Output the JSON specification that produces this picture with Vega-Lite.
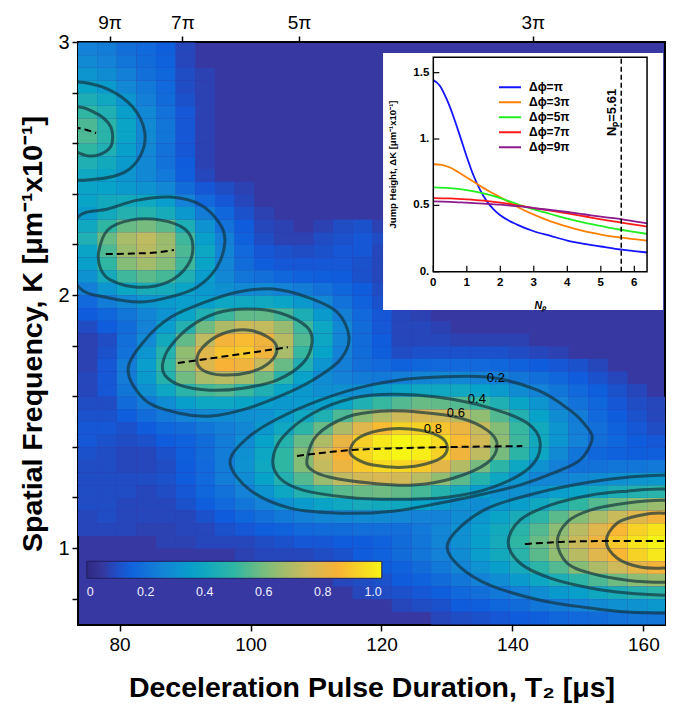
{
"$schema": "https://vega.github.io/schema/vega-lite/v6.json",
"width": 587, "height": 583,
"autosize": {"type": "none"},
"padding": {"left": 78, "top": 42, "right": 18, "bottom": 84},
"background": "white",
"config": {
  "font": "Liberation Sans",
  "view": {"fill": "#3838a2", "stroke": "black", "strokeWidth": 2},
  "axis": {"grid": false, "domain": false, "tickColor": "black", "labelColor": "black", "titleColor": "black", "labelFlush": false, "labelOverlap": false}
},
"datasets": {
"heat": [
{"t":75,"k":2.975,"v":0.25},{"t":78,"k":2.975,"v":0.23},{"t":81,"k":2.975,"v":0.19},{"t":84,"k":2.975,"v":0.17},{"t":87,"k":2.975,"v":0.14},
{"t":75,"k":2.925,"v":0.28},{"t":78,"k":2.925,"v":0.25},{"t":81,"k":2.925,"v":0.21},{"t":84,"k":2.925,"v":0.18},{"t":87,"k":2.925,"v":0.15},
{"t":75,"k":2.875,"v":0.32},{"t":78,"k":2.875,"v":0.29},{"t":81,"k":2.875,"v":0.24},{"t":84,"k":2.875,"v":0.19},{"t":87,"k":2.875,"v":0.16},{"t":90,"k":2.875,"v":0.1},
{"t":75,"k":2.825,"v":0.38},{"t":78,"k":2.825,"v":0.34},{"t":81,"k":2.825,"v":0.27},{"t":84,"k":2.825,"v":0.22},{"t":87,"k":2.825,"v":0.17},{"t":90,"k":2.825,"v":0.1},
{"t":75,"k":2.775,"v":0.44},{"t":78,"k":2.775,"v":0.4},{"t":81,"k":2.775,"v":0.32},{"t":84,"k":2.775,"v":0.24},{"t":87,"k":2.775,"v":0.18},{"t":90,"k":2.775,"v":0.11},
{"t":75,"k":2.725,"v":0.5},{"t":78,"k":2.725,"v":0.45},{"t":81,"k":2.725,"v":0.36},{"t":84,"k":2.725,"v":0.27},{"t":87,"k":2.725,"v":0.2},{"t":90,"k":2.725,"v":0.12},
{"t":75,"k":2.675,"v":0.54},{"t":78,"k":2.675,"v":0.48},{"t":81,"k":2.675,"v":0.38},{"t":84,"k":2.675,"v":0.28},{"t":87,"k":2.675,"v":0.21},{"t":90,"k":2.675,"v":0.12},
{"t":75,"k":2.625,"v":0.54},{"t":78,"k":2.625,"v":0.48},{"t":81,"k":2.625,"v":0.38},{"t":84,"k":2.625,"v":0.28},{"t":87,"k":2.625,"v":0.21},{"t":90,"k":2.625,"v":0.12},
{"t":75,"k":2.575,"v":0.5},{"t":78,"k":2.575,"v":0.45},{"t":81,"k":2.575,"v":0.36},{"t":84,"k":2.575,"v":0.27},{"t":87,"k":2.575,"v":0.2},{"t":90,"k":2.575,"v":0.12},
{"t":75,"k":2.525,"v":0.45},{"t":78,"k":2.525,"v":0.41},{"t":81,"k":2.525,"v":0.34},{"t":84,"k":2.525,"v":0.27},{"t":87,"k":2.525,"v":0.2},{"t":90,"k":2.525,"v":0.13},
{"t":75,"k":2.475,"v":0.4},{"t":78,"k":2.475,"v":0.38},{"t":81,"k":2.475,"v":0.32},{"t":84,"k":2.475,"v":0.27},{"t":87,"k":2.475,"v":0.22},{"t":90,"k":2.475,"v":0.14},
{"t":75,"k":2.425,"v":0.38},{"t":78,"k":2.425,"v":0.37},{"t":81,"k":2.425,"v":0.34},{"t":84,"k":2.425,"v":0.31},{"t":87,"k":2.425,"v":0.27},{"t":90,"k":2.425,"v":0.18},{"t":93,"k":2.425,"v":0.12},{"t":96,"k":2.425,"v":0.1},
{"t":75,"k":2.375,"v":0.38},{"t":78,"k":2.375,"v":0.41},{"t":81,"k":2.375,"v":0.41},{"t":84,"k":2.375,"v":0.4},{"t":87,"k":2.375,"v":0.35},{"t":90,"k":2.375,"v":0.25},{"t":93,"k":2.375,"v":0.17},{"t":96,"k":2.375,"v":0.12},
{"t":75,"k":2.325,"v":0.34},{"t":78,"k":2.325,"v":0.41},{"t":81,"k":2.325,"v":0.46},{"t":84,"k":2.325,"v":0.47},{"t":87,"k":2.325,"v":0.42},{"t":90,"k":2.325,"v":0.33},{"t":93,"k":2.325,"v":0.23},{"t":96,"k":2.325,"v":0.16},{"t":99,"k":2.325,"v":0.11},
{"t":75,"k":2.275,"v":0.4},{"t":78,"k":2.275,"v":0.5},{"t":81,"k":2.275,"v":0.58},{"t":84,"k":2.275,"v":0.6},{"t":87,"k":2.275,"v":0.56},{"t":90,"k":2.275,"v":0.44},{"t":93,"k":2.275,"v":0.31},{"t":96,"k":2.275,"v":0.2},{"t":99,"k":2.275,"v":0.13},{"t":114,"k":2.275,"v":0.1},{"t":117,"k":2.275,"v":0.11},
{"t":75,"k":2.225,"v":0.45},{"t":78,"k":2.225,"v":0.58},{"t":81,"k":2.225,"v":0.68},{"t":84,"k":2.225,"v":0.72},{"t":87,"k":2.225,"v":0.66},{"t":90,"k":2.225,"v":0.52},{"t":93,"k":2.225,"v":0.36},{"t":96,"k":2.225,"v":0.24},{"t":99,"k":2.225,"v":0.15},{"t":102,"k":2.225,"v":0.1},{"t":111,"k":2.225,"v":0.1},{"t":114,"k":2.225,"v":0.11},{"t":117,"k":2.225,"v":0.12},{"t":120,"k":2.225,"v":0.1},
{"t":75,"k":2.175,"v":0.38},{"t":78,"k":2.175,"v":0.54},{"t":81,"k":2.175,"v":0.66},{"t":84,"k":2.175,"v":0.71},{"t":87,"k":2.175,"v":0.66},{"t":90,"k":2.175,"v":0.54},{"t":93,"k":2.175,"v":0.39},{"t":96,"k":2.175,"v":0.26},{"t":99,"k":2.175,"v":0.17},{"t":102,"k":2.175,"v":0.12},{"t":105,"k":2.175,"v":0.11},{"t":108,"k":2.175,"v":0.1},{"t":111,"k":2.175,"v":0.11},{"t":114,"k":2.175,"v":0.12},{"t":117,"k":2.175,"v":0.12},
{"t":75,"k":2.125,"v":0.36},{"t":78,"k":2.125,"v":0.5},{"t":81,"k":2.125,"v":0.62},{"t":84,"k":2.125,"v":0.67},{"t":87,"k":2.125,"v":0.62},{"t":90,"k":2.125,"v":0.52},{"t":93,"k":2.125,"v":0.38},{"t":96,"k":2.125,"v":0.26},{"t":99,"k":2.125,"v":0.18},{"t":102,"k":2.125,"v":0.14},{"t":105,"k":2.125,"v":0.12},{"t":108,"k":2.125,"v":0.12},{"t":111,"k":2.125,"v":0.12},{"t":114,"k":2.125,"v":0.12},{"t":117,"k":2.125,"v":0.11},
{"t":75,"k":2.075,"v":0.31},{"t":78,"k":2.075,"v":0.42},{"t":81,"k":2.075,"v":0.52},{"t":84,"k":2.075,"v":0.56},{"t":87,"k":2.075,"v":0.53},{"t":90,"k":2.075,"v":0.45},{"t":93,"k":2.075,"v":0.35},{"t":96,"k":2.075,"v":0.27},{"t":99,"k":2.075,"v":0.21},{"t":102,"k":2.075,"v":0.19},{"t":105,"k":2.075,"v":0.16},{"t":108,"k":2.075,"v":0.15},{"t":111,"k":2.075,"v":0.14},{"t":114,"k":2.075,"v":0.13},{"t":117,"k":2.075,"v":0.11},
{"t":75,"k":2.025,"v":0.24},{"t":78,"k":2.025,"v":0.32},{"t":81,"k":2.025,"v":0.39},{"t":84,"k":2.025,"v":0.43},{"t":87,"k":2.025,"v":0.42},{"t":90,"k":2.025,"v":0.38},{"t":93,"k":2.025,"v":0.33},{"t":96,"k":2.025,"v":0.3},{"t":99,"k":2.025,"v":0.28},{"t":102,"k":2.025,"v":0.28},{"t":105,"k":2.025,"v":0.25},{"t":108,"k":2.025,"v":0.23},{"t":111,"k":2.025,"v":0.2},{"t":114,"k":2.025,"v":0.16},{"t":117,"k":2.025,"v":0.13},{"t":120,"k":2.025,"v":0.1},
{"t":75,"k":1.975,"v":0.17},{"t":78,"k":1.975,"v":0.23},{"t":81,"k":1.975,"v":0.28},{"t":84,"k":1.975,"v":0.32},{"t":87,"k":1.975,"v":0.34},{"t":90,"k":1.975,"v":0.35},{"t":93,"k":1.975,"v":0.36},{"t":96,"k":1.975,"v":0.39},{"t":99,"k":1.975,"v":0.4},{"t":102,"k":1.975,"v":0.4},{"t":105,"k":1.975,"v":0.38},{"t":108,"k":1.975,"v":0.33},{"t":111,"k":1.975,"v":0.27},{"t":114,"k":1.975,"v":0.2},{"t":117,"k":1.975,"v":0.15},{"t":120,"k":1.975,"v":0.11},
{"t":75,"k":1.925,"v":0.13},{"t":78,"k":1.925,"v":0.16},{"t":81,"k":1.925,"v":0.21},{"t":84,"k":1.925,"v":0.26},{"t":87,"k":1.925,"v":0.31},{"t":90,"k":1.925,"v":0.38},{"t":93,"k":1.925,"v":0.45},{"t":96,"k":1.925,"v":0.52},{"t":99,"k":1.925,"v":0.57},{"t":102,"k":1.925,"v":0.57},{"t":105,"k":1.925,"v":0.53},{"t":108,"k":1.925,"v":0.44},{"t":111,"k":1.925,"v":0.34},{"t":114,"k":1.925,"v":0.24},{"t":117,"k":1.925,"v":0.17},{"t":120,"k":1.925,"v":0.12},
{"t":75,"k":1.875,"v":0.1},{"t":78,"k":1.875,"v":0.13},{"t":81,"k":1.875,"v":0.18},{"t":84,"k":1.875,"v":0.25},{"t":87,"k":1.875,"v":0.35},{"t":90,"k":1.875,"v":0.46},{"t":93,"k":1.875,"v":0.59},{"t":96,"k":1.875,"v":0.69},{"t":99,"k":1.875,"v":0.74},{"t":102,"k":1.875,"v":0.73},{"t":105,"k":1.875,"v":0.65},{"t":108,"k":1.875,"v":0.52},{"t":111,"k":1.875,"v":0.39},{"t":114,"k":1.875,"v":0.27},{"t":117,"k":1.875,"v":0.18},{"t":120,"k":1.875,"v":0.12},
{"t":78,"k":1.825,"v":0.1},{"t":81,"k":1.825,"v":0.19},{"t":84,"k":1.825,"v":0.28},{"t":87,"k":1.825,"v":0.41},{"t":90,"k":1.825,"v":0.57},{"t":93,"k":1.825,"v":0.72},{"t":96,"k":1.825,"v":0.84},{"t":99,"k":1.825,"v":0.87},{"t":102,"k":1.825,"v":0.83},{"t":105,"k":1.825,"v":0.71},{"t":108,"k":1.825,"v":0.55},{"t":111,"k":1.825,"v":0.39},{"t":114,"k":1.825,"v":0.26},{"t":117,"k":1.825,"v":0.18},{"t":120,"k":1.825,"v":0.13},
{"t":78,"k":1.775,"v":0.11},{"t":81,"k":1.775,"v":0.2},{"t":84,"k":1.775,"v":0.32},{"t":87,"k":1.775,"v":0.47},{"t":90,"k":1.775,"v":0.64},{"t":93,"k":1.775,"v":0.79},{"t":96,"k":1.775,"v":0.89},{"t":99,"k":1.775,"v":0.9},{"t":102,"k":1.775,"v":0.83},{"t":105,"k":1.775,"v":0.68},{"t":108,"k":1.775,"v":0.51},{"t":111,"k":1.775,"v":0.37},{"t":114,"k":1.775,"v":0.25},{"t":117,"k":1.775,"v":0.18},{"t":120,"k":1.775,"v":0.14},{"t":123,"k":1.775,"v":0.1},{"t":126,"k":1.775,"v":0.11},{"t":129,"k":1.775,"v":0.11},{"t":132,"k":1.775,"v":0.11},{"t":135,"k":1.775,"v":0.11},{"t":138,"k":1.775,"v":0.11},{"t":141,"k":1.775,"v":0.1},
{"t":78,"k":1.725,"v":0.12},{"t":81,"k":1.725,"v":0.23},{"t":84,"k":1.725,"v":0.35},{"t":87,"k":1.725,"v":0.5},{"t":90,"k":1.725,"v":0.65},{"t":93,"k":1.725,"v":0.78},{"t":96,"k":1.725,"v":0.85},{"t":99,"k":1.725,"v":0.83},{"t":102,"k":1.725,"v":0.73},{"t":105,"k":1.725,"v":0.58},{"t":108,"k":1.725,"v":0.45},{"t":111,"k":1.725,"v":0.32},{"t":114,"k":1.725,"v":0.24},{"t":117,"k":1.725,"v":0.19},{"t":120,"k":1.725,"v":0.17},{"t":123,"k":1.725,"v":0.15},{"t":126,"k":1.725,"v":0.16},{"t":129,"k":1.725,"v":0.17},{"t":132,"k":1.725,"v":0.17},{"t":135,"k":1.725,"v":0.17},{"t":138,"k":1.725,"v":0.16},{"t":141,"k":1.725,"v":0.15},{"t":144,"k":1.725,"v":0.13},{"t":147,"k":1.725,"v":0.12},{"t":150,"k":1.725,"v":0.11},
{"t":78,"k":1.675,"v":0.12},{"t":81,"k":1.675,"v":0.23},{"t":84,"k":1.675,"v":0.34},{"t":87,"k":1.675,"v":0.47},{"t":90,"k":1.675,"v":0.59},{"t":93,"k":1.675,"v":0.68},{"t":96,"k":1.675,"v":0.71},{"t":99,"k":1.675,"v":0.67},{"t":102,"k":1.675,"v":0.59},{"t":105,"k":1.675,"v":0.48},{"t":108,"k":1.675,"v":0.37},{"t":111,"k":1.675,"v":0.29},{"t":114,"k":1.675,"v":0.25},{"t":117,"k":1.675,"v":0.23},{"t":120,"k":1.675,"v":0.22},{"t":123,"k":1.675,"v":0.24},{"t":126,"k":1.675,"v":0.26},{"t":129,"k":1.675,"v":0.27},{"t":132,"k":1.675,"v":0.27},{"t":135,"k":1.675,"v":0.25},{"t":138,"k":1.675,"v":0.24},{"t":141,"k":1.675,"v":0.21},{"t":144,"k":1.675,"v":0.19},{"t":147,"k":1.675,"v":0.16},{"t":150,"k":1.675,"v":0.13},{"t":153,"k":1.675,"v":0.11},
{"t":78,"k":1.625,"v":0.12},{"t":81,"k":1.625,"v":0.21},{"t":84,"k":1.625,"v":0.3},{"t":87,"k":1.625,"v":0.39},{"t":90,"k":1.625,"v":0.48},{"t":93,"k":1.625,"v":0.53},{"t":96,"k":1.625,"v":0.55},{"t":99,"k":1.625,"v":0.51},{"t":102,"k":1.625,"v":0.45},{"t":105,"k":1.625,"v":0.38},{"t":108,"k":1.625,"v":0.33},{"t":111,"k":1.625,"v":0.3},{"t":114,"k":1.625,"v":0.3},{"t":117,"k":1.625,"v":0.3},{"t":120,"k":1.625,"v":0.34},{"t":123,"k":1.625,"v":0.38},{"t":126,"k":1.625,"v":0.4},{"t":129,"k":1.625,"v":0.4},{"t":132,"k":1.625,"v":0.4},{"t":135,"k":1.625,"v":0.37},{"t":138,"k":1.625,"v":0.34},{"t":141,"k":1.625,"v":0.29},{"t":144,"k":1.625,"v":0.25},{"t":147,"k":1.625,"v":0.21},{"t":150,"k":1.625,"v":0.17},{"t":153,"k":1.625,"v":0.14},{"t":156,"k":1.625,"v":0.11},
{"t":78,"k":1.575,"v":0.1},{"t":81,"k":1.575,"v":0.18},{"t":84,"k":1.575,"v":0.23},{"t":87,"k":1.575,"v":0.29},{"t":90,"k":1.575,"v":0.36},{"t":93,"k":1.575,"v":0.39},{"t":96,"k":1.575,"v":0.39},{"t":99,"k":1.575,"v":0.38},{"t":102,"k":1.575,"v":0.35},{"t":105,"k":1.575,"v":0.33},{"t":108,"k":1.575,"v":0.34},{"t":111,"k":1.575,"v":0.36},{"t":114,"k":1.575,"v":0.38},{"t":117,"k":1.575,"v":0.45},{"t":120,"k":1.575,"v":0.51},{"t":123,"k":1.575,"v":0.55},{"t":126,"k":1.575,"v":0.58},{"t":129,"k":1.575,"v":0.57},{"t":132,"k":1.575,"v":0.55},{"t":135,"k":1.575,"v":0.51},{"t":138,"k":1.575,"v":0.45},{"t":141,"k":1.575,"v":0.38},{"t":144,"k":1.575,"v":0.32},{"t":147,"k":1.575,"v":0.25},{"t":150,"k":1.575,"v":0.2},{"t":153,"k":1.575,"v":0.16},{"t":156,"k":1.575,"v":0.12},{"t":159,"k":1.575,"v":0.1},
{"t":75,"k":1.525,"v":0.11},{"t":78,"k":1.525,"v":0.11},{"t":81,"k":1.525,"v":0.14},{"t":84,"k":1.525,"v":0.18},{"t":87,"k":1.525,"v":0.22},{"t":90,"k":1.525,"v":0.25},{"t":93,"k":1.525,"v":0.28},{"t":96,"k":1.525,"v":0.29},{"t":99,"k":1.525,"v":0.3},{"t":102,"k":1.525,"v":0.31},{"t":105,"k":1.525,"v":0.35},{"t":108,"k":1.525,"v":0.4},{"t":111,"k":1.525,"v":0.45},{"t":114,"k":1.525,"v":0.54},{"t":117,"k":1.525,"v":0.63},{"t":120,"k":1.525,"v":0.7},{"t":123,"k":1.525,"v":0.75},{"t":126,"k":1.525,"v":0.77},{"t":129,"k":1.525,"v":0.75},{"t":132,"k":1.525,"v":0.71},{"t":135,"k":1.525,"v":0.64},{"t":138,"k":1.525,"v":0.55},{"t":141,"k":1.525,"v":0.46},{"t":144,"k":1.525,"v":0.37},{"t":147,"k":1.525,"v":0.29},{"t":150,"k":1.525,"v":0.23},{"t":153,"k":1.525,"v":0.17},{"t":156,"k":1.525,"v":0.13},{"t":159,"k":1.525,"v":0.11},
{"t":75,"k":1.475,"v":0.12},{"t":78,"k":1.475,"v":0.12},{"t":81,"k":1.475,"v":0.11},{"t":84,"k":1.475,"v":0.13},{"t":87,"k":1.475,"v":0.16},{"t":90,"k":1.475,"v":0.18},{"t":93,"k":1.475,"v":0.21},{"t":96,"k":1.475,"v":0.24},{"t":99,"k":1.475,"v":0.27},{"t":102,"k":1.475,"v":0.33},{"t":105,"k":1.475,"v":0.4},{"t":108,"k":1.475,"v":0.49},{"t":111,"k":1.475,"v":0.58},{"t":114,"k":1.475,"v":0.69},{"t":117,"k":1.475,"v":0.79},{"t":120,"k":1.475,"v":0.87},{"t":123,"k":1.475,"v":0.92},{"t":126,"k":1.475,"v":0.92},{"t":129,"k":1.475,"v":0.89},{"t":132,"k":1.475,"v":0.82},{"t":135,"k":1.475,"v":0.73},{"t":138,"k":1.475,"v":0.62},{"t":141,"k":1.475,"v":0.51},{"t":144,"k":1.475,"v":0.41},{"t":147,"k":1.475,"v":0.32},{"t":150,"k":1.475,"v":0.24},{"t":153,"k":1.475,"v":0.19},{"t":156,"k":1.475,"v":0.15},{"t":159,"k":1.475,"v":0.12},{"t":162,"k":1.475,"v":0.1},
{"t":75,"k":1.425,"v":0.12},{"t":78,"k":1.425,"v":0.11},{"t":81,"k":1.425,"v":0.1},{"t":84,"k":1.425,"v":0.11},{"t":87,"k":1.425,"v":0.13},{"t":90,"k":1.425,"v":0.15},{"t":93,"k":1.425,"v":0.18},{"t":96,"k":1.425,"v":0.23},{"t":99,"k":1.425,"v":0.29},{"t":102,"k":1.425,"v":0.37},{"t":105,"k":1.425,"v":0.47},{"t":108,"k":1.425,"v":0.58},{"t":111,"k":1.425,"v":0.69},{"t":114,"k":1.425,"v":0.81},{"t":117,"k":1.425,"v":0.91},{"t":120,"k":1.425,"v":0.97},{"t":123,"k":1.425,"v":1.0},{"t":126,"k":1.425,"v":0.98},{"t":129,"k":1.425,"v":0.94},{"t":132,"k":1.425,"v":0.87},{"t":135,"k":1.425,"v":0.76},{"t":138,"k":1.425,"v":0.64},{"t":141,"k":1.425,"v":0.52},{"t":144,"k":1.425,"v":0.41},{"t":147,"k":1.425,"v":0.32},{"t":150,"k":1.425,"v":0.25},{"t":153,"k":1.425,"v":0.19},{"t":156,"k":1.425,"v":0.16},{"t":159,"k":1.425,"v":0.13},{"t":162,"k":1.425,"v":0.12},
{"t":75,"k":1.375,"v":0.11},{"t":78,"k":1.375,"v":0.1},{"t":87,"k":1.375,"v":0.11},{"t":90,"k":1.375,"v":0.14},{"t":93,"k":1.375,"v":0.18},{"t":96,"k":1.375,"v":0.23},{"t":99,"k":1.375,"v":0.3},{"t":102,"k":1.375,"v":0.39},{"t":105,"k":1.375,"v":0.5},{"t":108,"k":1.375,"v":0.62},{"t":111,"k":1.375,"v":0.75},{"t":114,"k":1.375,"v":0.85},{"t":117,"k":1.375,"v":0.93},{"t":120,"k":1.375,"v":0.98},{"t":123,"k":1.375,"v":1.0},{"t":126,"k":1.375,"v":0.98},{"t":129,"k":1.375,"v":0.92},{"t":132,"k":1.375,"v":0.83},{"t":135,"k":1.375,"v":0.72},{"t":138,"k":1.375,"v":0.6},{"t":141,"k":1.375,"v":0.49},{"t":144,"k":1.375,"v":0.39},{"t":147,"k":1.375,"v":0.28},{"t":150,"k":1.375,"v":0.21},{"t":153,"k":1.375,"v":0.16},{"t":156,"k":1.375,"v":0.15},{"t":159,"k":1.375,"v":0.14},{"t":162,"k":1.375,"v":0.14},
{"t":87,"k":1.325,"v":0.1},{"t":90,"k":1.325,"v":0.13},{"t":93,"k":1.325,"v":0.17},{"t":96,"k":1.325,"v":0.23},{"t":99,"k":1.325,"v":0.31},{"t":102,"k":1.325,"v":0.4},{"t":105,"k":1.325,"v":0.5},{"t":108,"k":1.325,"v":0.62},{"t":111,"k":1.325,"v":0.73},{"t":114,"k":1.325,"v":0.82},{"t":117,"k":1.325,"v":0.9},{"t":120,"k":1.325,"v":0.94},{"t":123,"k":1.325,"v":0.93},{"t":126,"k":1.325,"v":0.9},{"t":129,"k":1.325,"v":0.8},{"t":132,"k":1.325,"v":0.7},{"t":135,"k":1.325,"v":0.6},{"t":138,"k":1.325,"v":0.49},{"t":141,"k":1.325,"v":0.39},{"t":144,"k":1.325,"v":0.31},{"t":147,"k":1.325,"v":0.24},{"t":150,"k":1.325,"v":0.2},{"t":153,"k":1.325,"v":0.2},{"t":156,"k":1.325,"v":0.21},{"t":159,"k":1.325,"v":0.21},{"t":162,"k":1.325,"v":0.22},
{"t":87,"k":1.275,"v":0.11},{"t":90,"k":1.275,"v":0.13},{"t":93,"k":1.275,"v":0.17},{"t":96,"k":1.275,"v":0.23},{"t":99,"k":1.275,"v":0.29},{"t":102,"k":1.275,"v":0.37},{"t":105,"k":1.275,"v":0.46},{"t":108,"k":1.275,"v":0.55},{"t":111,"k":1.275,"v":0.65},{"t":114,"k":1.275,"v":0.72},{"t":117,"k":1.275,"v":0.76},{"t":120,"k":1.275,"v":0.77},{"t":123,"k":1.275,"v":0.76},{"t":126,"k":1.275,"v":0.71},{"t":129,"k":1.275,"v":0.64},{"t":132,"k":1.275,"v":0.56},{"t":135,"k":1.275,"v":0.47},{"t":138,"k":1.275,"v":0.39},{"t":141,"k":1.275,"v":0.32},{"t":144,"k":1.275,"v":0.26},{"t":147,"k":1.275,"v":0.26},{"t":150,"k":1.275,"v":0.27},{"t":153,"k":1.275,"v":0.29},{"t":156,"k":1.275,"v":0.3},{"t":159,"k":1.275,"v":0.32},{"t":162,"k":1.275,"v":0.33},
{"t":87,"k":1.225,"v":0.1},{"t":90,"k":1.225,"v":0.12},{"t":93,"k":1.225,"v":0.16},{"t":96,"k":1.225,"v":0.2},{"t":99,"k":1.225,"v":0.25},{"t":102,"k":1.225,"v":0.32},{"t":105,"k":1.225,"v":0.39},{"t":108,"k":1.225,"v":0.46},{"t":111,"k":1.225,"v":0.51},{"t":114,"k":1.225,"v":0.56},{"t":117,"k":1.225,"v":0.58},{"t":120,"k":1.225,"v":0.59},{"t":123,"k":1.225,"v":0.57},{"t":126,"k":1.225,"v":0.53},{"t":129,"k":1.225,"v":0.47},{"t":132,"k":1.225,"v":0.42},{"t":135,"k":1.225,"v":0.36},{"t":138,"k":1.225,"v":0.3},{"t":141,"k":1.225,"v":0.3},{"t":144,"k":1.225,"v":0.32},{"t":147,"k":1.225,"v":0.35},{"t":150,"k":1.225,"v":0.38},{"t":153,"k":1.225,"v":0.41},{"t":156,"k":1.225,"v":0.44},{"t":159,"k":1.225,"v":0.46},{"t":162,"k":1.225,"v":0.48},
{"t":90,"k":1.175,"v":0.11},{"t":93,"k":1.175,"v":0.14},{"t":96,"k":1.175,"v":0.17},{"t":99,"k":1.175,"v":0.21},{"t":102,"k":1.175,"v":0.25},{"t":105,"k":1.175,"v":0.3},{"t":108,"k":1.175,"v":0.34},{"t":111,"k":1.175,"v":0.38},{"t":114,"k":1.175,"v":0.4},{"t":117,"k":1.175,"v":0.42},{"t":120,"k":1.175,"v":0.41},{"t":123,"k":1.175,"v":0.4},{"t":126,"k":1.175,"v":0.37},{"t":129,"k":1.175,"v":0.34},{"t":132,"k":1.175,"v":0.3},{"t":135,"k":1.175,"v":0.29},{"t":138,"k":1.175,"v":0.33},{"t":141,"k":1.175,"v":0.36},{"t":144,"k":1.175,"v":0.4},{"t":147,"k":1.175,"v":0.45},{"t":150,"k":1.175,"v":0.5},{"t":153,"k":1.175,"v":0.55},{"t":156,"k":1.175,"v":0.59},{"t":159,"k":1.175,"v":0.63},{"t":162,"k":1.175,"v":0.66},
{"t":93,"k":1.125,"v":0.11},{"t":96,"k":1.125,"v":0.13},{"t":99,"k":1.125,"v":0.16},{"t":102,"k":1.125,"v":0.19},{"t":105,"k":1.125,"v":0.22},{"t":108,"k":1.125,"v":0.24},{"t":111,"k":1.125,"v":0.26},{"t":114,"k":1.125,"v":0.27},{"t":117,"k":1.125,"v":0.28},{"t":120,"k":1.125,"v":0.28},{"t":123,"k":1.125,"v":0.27},{"t":126,"k":1.125,"v":0.25},{"t":129,"k":1.125,"v":0.25},{"t":132,"k":1.125,"v":0.29},{"t":135,"k":1.125,"v":0.33},{"t":138,"k":1.125,"v":0.38},{"t":141,"k":1.125,"v":0.43},{"t":144,"k":1.125,"v":0.49},{"t":147,"k":1.125,"v":0.56},{"t":150,"k":1.125,"v":0.62},{"t":153,"k":1.125,"v":0.68},{"t":156,"k":1.125,"v":0.74},{"t":159,"k":1.125,"v":0.79},{"t":162,"k":1.125,"v":0.84},
{"t":96,"k":1.075,"v":0.11},{"t":99,"k":1.075,"v":0.12},{"t":102,"k":1.075,"v":0.14},{"t":105,"k":1.075,"v":0.15},{"t":108,"k":1.075,"v":0.17},{"t":111,"k":1.075,"v":0.18},{"t":114,"k":1.075,"v":0.18},{"t":117,"k":1.075,"v":0.19},{"t":120,"k":1.075,"v":0.19},{"t":123,"k":1.075,"v":0.19},{"t":126,"k":1.075,"v":0.22},{"t":129,"k":1.075,"v":0.26},{"t":132,"k":1.075,"v":0.3},{"t":135,"k":1.075,"v":0.35},{"t":138,"k":1.075,"v":0.41},{"t":141,"k":1.075,"v":0.48},{"t":144,"k":1.075,"v":0.55},{"t":147,"k":1.075,"v":0.63},{"t":150,"k":1.075,"v":0.71},{"t":153,"k":1.075,"v":0.79},{"t":156,"k":1.075,"v":0.86},{"t":159,"k":1.075,"v":0.92},{"t":162,"k":1.075,"v":0.96},
{"t":102,"k":1.025,"v":0.1},{"t":105,"k":1.025,"v":0.11},{"t":108,"k":1.025,"v":0.12},{"t":111,"k":1.025,"v":0.12},{"t":114,"k":1.025,"v":0.13},{"t":117,"k":1.025,"v":0.13},{"t":120,"k":1.025,"v":0.15},{"t":123,"k":1.025,"v":0.18},{"t":126,"k":1.025,"v":0.21},{"t":129,"k":1.025,"v":0.26},{"t":132,"k":1.025,"v":0.3},{"t":135,"k":1.025,"v":0.36},{"t":138,"k":1.025,"v":0.42},{"t":141,"k":1.025,"v":0.5},{"t":144,"k":1.025,"v":0.58},{"t":147,"k":1.025,"v":0.66},{"t":150,"k":1.025,"v":0.74},{"t":153,"k":1.025,"v":0.82},{"t":156,"k":1.025,"v":0.9},{"t":159,"k":1.025,"v":0.96},{"t":162,"k":1.025,"v":1.0},
{"t":114,"k":0.975,"v":0.11},{"t":117,"k":0.975,"v":0.13},{"t":120,"k":0.975,"v":0.15},{"t":123,"k":0.975,"v":0.18},{"t":126,"k":0.975,"v":0.21},{"t":129,"k":0.975,"v":0.25},{"t":132,"k":0.975,"v":0.29},{"t":135,"k":0.975,"v":0.35},{"t":138,"k":0.975,"v":0.41},{"t":141,"k":0.975,"v":0.48},{"t":144,"k":0.975,"v":0.56},{"t":147,"k":0.975,"v":0.64},{"t":150,"k":0.975,"v":0.71},{"t":153,"k":0.975,"v":0.79},{"t":156,"k":0.975,"v":0.86},{"t":159,"k":0.975,"v":0.92},{"t":162,"k":0.975,"v":0.97},
{"t":117,"k":0.925,"v":0.12},{"t":120,"k":0.925,"v":0.13},{"t":123,"k":0.925,"v":0.15},{"t":126,"k":0.925,"v":0.18},{"t":129,"k":0.925,"v":0.22},{"t":132,"k":0.925,"v":0.26},{"t":135,"k":0.925,"v":0.31},{"t":138,"k":0.925,"v":0.36},{"t":141,"k":0.925,"v":0.42},{"t":144,"k":0.925,"v":0.49},{"t":147,"k":0.925,"v":0.55},{"t":150,"k":0.925,"v":0.62},{"t":153,"k":0.925,"v":0.69},{"t":156,"k":0.925,"v":0.75},{"t":159,"k":0.925,"v":0.8},{"t":162,"k":0.925,"v":0.84},
{"t":120,"k":0.875,"v":0.11},{"t":123,"k":0.875,"v":0.13},{"t":126,"k":0.875,"v":0.15},{"t":129,"k":0.875,"v":0.18},{"t":132,"k":0.875,"v":0.21},{"t":135,"k":0.875,"v":0.25},{"t":138,"k":0.875,"v":0.29},{"t":141,"k":0.875,"v":0.34},{"t":144,"k":0.875,"v":0.39},{"t":147,"k":0.875,"v":0.44},{"t":150,"k":0.875,"v":0.49},{"t":153,"k":0.875,"v":0.54},{"t":156,"k":0.875,"v":0.59},{"t":159,"k":0.875,"v":0.63},{"t":162,"k":0.875,"v":0.66},
{"t":123,"k":0.825,"v":0.11},{"t":126,"k":0.825,"v":0.12},{"t":129,"k":0.825,"v":0.14},{"t":132,"k":0.825,"v":0.17},{"t":135,"k":0.825,"v":0.19},{"t":138,"k":0.825,"v":0.22},{"t":141,"k":0.825,"v":0.25},{"t":144,"k":0.825,"v":0.29},{"t":147,"k":0.825,"v":0.33},{"t":150,"k":0.825,"v":0.36},{"t":153,"k":0.825,"v":0.4},{"t":156,"k":0.825,"v":0.43},{"t":159,"k":0.825,"v":0.46},{"t":162,"k":0.825,"v":0.48},
{"t":129,"k":0.775,"v":0.11},{"t":132,"k":0.775,"v":0.13},{"t":135,"k":0.775,"v":0.14},{"t":138,"k":0.775,"v":0.16},{"t":141,"k":0.775,"v":0.18},{"t":144,"k":0.775,"v":0.21},{"t":147,"k":0.775,"v":0.23},{"t":150,"k":0.775,"v":0.25},{"t":153,"k":0.775,"v":0.28},{"t":156,"k":0.775,"v":0.3},{"t":159,"k":0.775,"v":0.31},{"t":162,"k":0.775,"v":0.33},
{"t":135,"k":0.725,"v":0.11},{"t":138,"k":0.725,"v":0.12},{"t":141,"k":0.725,"v":0.13},{"t":144,"k":0.725,"v":0.14},{"t":147,"k":0.725,"v":0.16},{"t":150,"k":0.725,"v":0.17},{"t":153,"k":0.725,"v":0.18},{"t":156,"k":0.725,"v":0.2},{"t":159,"k":0.725,"v":0.21},{"t":162,"k":0.725,"v":0.21},
{"t":90,"k":2.975,"v":0.09},{"t":90,"k":2.925,"v":0.09},{"t":93,"k":2.875,"v":0.08},{"t":93,"k":2.825,"v":0.08},{"t":93,"k":2.775,"v":0.08},{"t":93,"k":2.725,"v":0.08},{"t":93,"k":2.675,"v":0.08},{"t":93,"k":2.625,"v":0.08},{"t":93,"k":2.575,"v":0.08},{"t":93,"k":2.525,"v":0.08},{"t":93,"k":2.475,"v":0.09},
{"t":99,"k":2.425,"v":0.08},{"t":99,"k":2.375,"v":0.09},{"t":102,"k":2.325,"v":0.08},{"t":102,"k":2.275,"v":0.09},{"t":105,"k":2.275,"v":0.08},{"t":111,"k":2.275,"v":0.08},{"t":120,"k":2.275,"v":0.08},
{"t":105,"k":2.225,"v":0.08},{"t":108,"k":2.225,"v":0.08},{"t":123,"k":2.225,"v":0.08},{"t":120,"k":2.175,"v":0.09},{"t":123,"k":2.175,"v":0.08},{"t":120,"k":2.125,"v":0.09},{"t":120,"k":2.075,"v":0.09},{"t":123,"k":2.025,"v":0.08},{"t":123,"k":1.975,"v":0.08},
{"t":123,"k":1.925,"v":0.09},{"t":126,"k":1.925,"v":0.08},{"t":123,"k":1.875,"v":0.09},{"t":126,"k":1.875,"v":0.09},{"t":129,"k":1.875,"v":0.08},
{"t":75,"k":1.825,"v":0.08},{"t":123,"k":1.825,"v":0.09},{"t":126,"k":1.825,"v":0.09},{"t":129,"k":1.825,"v":0.09},{"t":132,"k":1.825,"v":0.08},{"t":135,"k":1.825,"v":0.08},{"t":138,"k":1.825,"v":0.08},{"t":141,"k":1.825,"v":0.08},
{"t":75,"k":1.775,"v":0.08},{"t":144,"k":1.775,"v":0.09},{"t":147,"k":1.775,"v":0.08},{"t":75,"k":1.725,"v":0.08},{"t":153,"k":1.725,"v":0.09},{"t":75,"k":1.675,"v":0.09},{"t":156,"k":1.675,"v":0.09},{"t":75,"k":1.625,"v":0.09},{"t":159,"k":1.625,"v":0.09},{"t":75,"k":1.575,"v":0.1},{"t":162,"k":1.575,"v":0.09},{"t":162,"k":1.525,"v":0.09},
{"t":81,"k":1.375,"v":0.09},{"t":84,"k":1.375,"v":0.09},
{"t":75,"k":1.325,"v":0.1},{"t":78,"k":1.325,"v":0.1},{"t":81,"k":1.325,"v":0.09},{"t":84,"k":1.325,"v":0.09},
{"t":75,"k":1.275,"v":0.1},{"t":78,"k":1.275,"v":0.1},{"t":81,"k":1.275,"v":0.1},{"t":84,"k":1.275,"v":0.1},
{"t":75,"k":1.225,"v":0.1},{"t":78,"k":1.225,"v":0.1},{"t":81,"k":1.225,"v":0.1},{"t":84,"k":1.225,"v":0.09},
{"t":75,"k":1.175,"v":0.1},{"t":78,"k":1.175,"v":0.1},{"t":81,"k":1.175,"v":0.09},{"t":84,"k":1.175,"v":0.09},{"t":87,"k":1.175,"v":0.09},
{"t":75,"k":1.125,"v":0.09},{"t":78,"k":1.125,"v":0.1},{"t":81,"k":1.125,"v":0.09},{"t":84,"k":1.125,"v":0.09},{"t":87,"k":1.125,"v":0.09},{"t":90,"k":1.125,"v":0.09},
{"t":75,"k":1.075,"v":0.09},{"t":78,"k":1.075,"v":0.09},{"t":81,"k":1.075,"v":0.09},{"t":84,"k":1.075,"v":0.08},{"t":87,"k":1.075,"v":0.08},{"t":90,"k":1.075,"v":0.09},{"t":93,"k":1.075,"v":0.09},
{"t":87,"k":1.025,"v":0.08},{"t":90,"k":1.025,"v":0.08},{"t":93,"k":1.025,"v":0.09},{"t":96,"k":1.025,"v":0.09},{"t":99,"k":1.025,"v":0.09},
{"t":99,"k":0.975,"v":0.08},{"t":102,"k":0.975,"v":0.09},{"t":105,"k":0.975,"v":0.09},{"t":108,"k":0.975,"v":0.09},{"t":111,"k":0.975,"v":0.1},
{"t":108,"k":0.925,"v":0.08},{"t":111,"k":0.925,"v":0.09},{"t":114,"k":0.925,"v":0.1},{"t":114,"k":0.875,"v":0.09},{"t":117,"k":0.875,"v":0.1},{"t":117,"k":0.825,"v":0.09},{"t":120,"k":0.825,"v":0.1},{"t":123,"k":0.775,"v":0.09},{"t":126,"k":0.775,"v":0.1},{"t":129,"k":0.725,"v":0.09},{"t":132,"k":0.725,"v":0.1}
],
"cont": [
{"c":"A4","t":73.6,"k":2.743},{"c":"A4","t":76.66,"k":2.715},{"c":"A4","t":78.49,"k":2.672},{"c":"A4","t":78.95,"k":2.624},{"c":"A4","t":78.49,"k":2.581},{"c":"A4","t":76.66,"k":2.553},{"c":"A4","t":74.67,"k":2.553},{"c":"A4","t":72.07,"k":2.593},{"c":"A4","t":71.77,"k":2.692},
{"c":"A2","t":73.6,"k":2.842},{"c":"A2","t":78.19,"k":2.814},{"c":"A2","t":82.01,"k":2.743},{"c":"A2","t":83.84,"k":2.644},{"c":"A2","t":83.23,"k":2.553},{"c":"A2","t":80.79,"k":2.486},{"c":"A2","t":76.2,"k":2.458},{"c":"A2","t":72.38,"k":2.474},{"c":"A2","t":70.85,"k":2.652},{"c":"A2","t":72.07,"k":2.818},
{"c":"B4","t":76.81,"k":2.17},{"c":"B4","t":78.19,"k":2.257},{"c":"B4","t":81.7,"k":2.296},{"c":"B4","t":86.29,"k":2.296},{"c":"B4","t":89.96,"k":2.261},{"c":"B4","t":91.18,"k":2.198},{"c":"B4","t":90.42,"k":2.118},{"c":"B4","t":87.36,"k":2.051},{"c":"B4","t":82.77,"k":2.031},{"c":"B4","t":78.65,"k":2.059},{"c":"B4","t":77.12,"k":2.103},
{"c":"B2","t":73.6,"k":2.308},{"c":"B2","t":78.19,"k":2.34},{"c":"B2","t":82.77,"k":2.375},{"c":"B2","t":87.82,"k":2.387},{"c":"B2","t":92.41,"k":2.356},{"c":"B2","t":95.32,"k":2.281},{"c":"B2","t":96.08,"k":2.209},{"c":"B2","t":94.86,"k":2.11},{"c":"B2","t":91.8,"k":2.031},{"c":"B2","t":87.67,"k":1.992},{"c":"B2","t":83.08,"k":1.972},{"c":"B2","t":77.73,"k":1.992},{"c":"B2","t":73.91,"k":2.028},{"c":"B2","t":71.61,"k":2.158},
{"c":"C6","t":91.8,"k":1.743},{"c":"C6","t":92.71,"k":1.794},{"c":"C6","t":95.62,"k":1.846},{"c":"C6","t":99.44,"k":1.862},{"c":"C6","t":102.65,"k":1.834},{"c":"C6","t":104.03,"k":1.79},{"c":"C6","t":102.96,"k":1.735},{"c":"C6","t":99.9,"k":1.695},{"c":"C6","t":95.77,"k":1.684},{"c":"C6","t":92.71,"k":1.703},
{"c":"C4","t":86.6,"k":1.731},{"c":"C4","t":87.67,"k":1.794},{"c":"C4","t":90.72,"k":1.874},{"c":"C4","t":94.85,"k":1.929},{"c":"C4","t":99.44,"k":1.945},{"c":"C4","t":104.49,"k":1.929},{"c":"C4","t":108.61,"k":1.874},{"c":"C4","t":109.38,"k":1.81},{"c":"C4","t":108.0,"k":1.731},{"c":"C4","t":104.03,"k":1.664},{"c":"C4","t":98.83,"k":1.632},{"c":"C4","t":93.78,"k":1.624},{"c":"C4","t":89.2,"k":1.644},{"c":"C4","t":86.9,"k":1.684},
{"c":"C2","t":81.3,"k":1.704},{"c":"C2","t":83.89,"k":1.822},{"c":"C2","t":87.86,"k":1.913},{"c":"C2","t":93.06,"k":1.972},{"c":"C2","t":98.09,"k":2.012},{"c":"C2","t":103.44,"k":2.024},{"c":"C2","t":108.63,"k":1.992},{"c":"C2","t":113.21,"k":1.933},{"c":"C2","t":115.04,"k":1.834},{"c":"C2","t":113.66,"k":1.743},{"c":"C2","t":109.54,"k":1.664},{"c":"C2","t":104.96,"k":1.605},{"c":"C2","t":99.16,"k":1.549},{"c":"C2","t":93.97,"k":1.522},{"c":"C2","t":88.93,"k":1.534},{"c":"C2","t":83.89,"k":1.585},
{"c":"D8","t":115.19,"k":1.387},{"c":"D8","t":116.72,"k":1.439},{"c":"D8","t":120.85,"k":1.47},{"c":"D8","t":125.89,"k":1.466},{"c":"D8","t":129.26,"k":1.435},{"c":"D8","t":130.02,"k":1.387},{"c":"D8","t":128.49,"k":1.348},{"c":"D8","t":123.9,"k":1.32},{"c":"D8","t":118.71,"k":1.328},{"c":"D8","t":115.95,"k":1.356},
{"c":"D6","t":108.61,"k":1.348},{"c":"D6","t":110.14,"k":1.446},{"c":"D6","t":114.73,"k":1.518},{"c":"D6","t":119.78,"k":1.541},{"c":"D6","t":125.89,"k":1.537},{"c":"D6","t":132.01,"k":1.514},{"c":"D6","t":136.14,"k":1.466},{"c":"D6","t":137.67,"k":1.407},{"c":"D6","t":136.14,"k":1.336},{"c":"D6","t":130.94,"k":1.276},{"c":"D6","t":124.82,"k":1.249},{"c":"D6","t":118.25,"k":1.257},{"c":"D6","t":112.13,"k":1.28},{"c":"D6","t":109.38,"k":1.308},
{"c":"D4","t":103.41,"k":1.348},{"c":"D4","t":104.94,"k":1.439},{"c":"D4","t":109.53,"k":1.533},{"c":"D4","t":115.65,"k":1.593},{"c":"D4","t":121.76,"k":1.608},{"c":"D4","t":128.49,"k":1.597},{"c":"D4","t":136.14,"k":1.557},{"c":"D4","t":142.25,"k":1.494},{"c":"D4","t":144.24,"k":1.415},{"c":"D4","t":142.71,"k":1.32},{"c":"D4","t":137.05,"k":1.241},{"c":"D4","t":130.02,"k":1.201},{"c":"D4","t":121.76,"k":1.193},{"c":"D4","t":114.73,"k":1.201},{"c":"D4","t":108.0,"k":1.229},{"c":"D4","t":104.49,"k":1.276},
{"c":"D2","t":96.88,"k":1.336},{"c":"D2","t":99.17,"k":1.427},{"c":"D2","t":103.75,"k":1.506},{"c":"D2","t":110.62,"k":1.585},{"c":"D2","t":118.25,"k":1.644},{"c":"D2","t":125.88,"k":1.672},{"c":"D2","t":136.11,"k":1.676},{"c":"D2","t":143.75,"k":1.625},{"c":"D2","t":148.78,"k":1.545},{"c":"D2","t":151.38,"k":1.478},{"c":"D2","t":152.14,"k":1.427},{"c":"D2","t":150.31,"k":1.348},{"c":"D2","t":146.19,"k":1.296},{"c":"D2","t":141.15,"k":1.249},{"c":"D2","t":136.11,"k":1.217},{"c":"D2","t":128.93,"k":1.178},{"c":"D2","t":121.76,"k":1.146},{"c":"D2","t":113.67,"k":1.138},{"c":"D2","t":106.04,"k":1.158},{"c":"D2","t":99.93,"k":1.229},
{"c":"E8","t":154.33,"k":1.027},{"c":"E8","t":156.01,"k":1.099},{"c":"E8","t":159.53,"k":1.13},{"c":"E8","t":163.05,"k":1.138},{"c":"E8","t":166.41,"k":1.118},{"c":"E8","t":167.94,"k":1.027},{"c":"E8","t":166.41,"k":0.929},{"c":"E8","t":163.05,"k":0.921},{"c":"E8","t":159.53,"k":0.925},{"c":"E8","t":156.01,"k":0.96},
{"c":"E6","t":146.84,"k":1.023},{"c":"E6","t":148.37,"k":1.103},{"c":"E6","t":151.88,"k":1.15},{"c":"E6","t":157.54,"k":1.178},{"c":"E6","t":163.05,"k":1.189},{"c":"E6","t":168.7,"k":1.17},{"c":"E6","t":171.76,"k":1.027},{"c":"E6","t":168.7,"k":0.873},{"c":"E6","t":163.05,"k":0.865},{"c":"E6","t":157.54,"k":0.873},{"c":"E6","t":151.88,"k":0.901},{"c":"E6","t":148.37,"k":0.94},
{"c":"E4","t":139.35,"k":1.023},{"c":"E4","t":141.18,"k":1.111},{"c":"E4","t":145.77,"k":1.17},{"c":"E4","t":151.88,"k":1.209},{"c":"E4","t":157.54,"k":1.225},{"c":"E4","t":163.05,"k":1.233},{"c":"E4","t":170.23,"k":1.221},{"c":"E4","t":174.82,"k":1.023},{"c":"E4","t":170.23,"k":0.814},{"c":"E4","t":163.05,"k":0.814},{"c":"E4","t":157.54,"k":0.822},{"c":"E4","t":151.88,"k":0.842},{"c":"E4","t":145.77,"k":0.881},{"c":"E4","t":141.18,"k":0.94},
{"c":"E2","t":130.02,"k":1.004},{"c":"E2","t":132.01,"k":1.083},{"c":"E2","t":136.6,"k":1.162},{"c":"E2","t":144.24,"k":1.221},{"c":"E2","t":151.88,"k":1.261},{"c":"E2","t":157.54,"k":1.28},{"c":"E2","t":163.05,"k":1.288},{"c":"E2","t":171.76,"k":1.276},{"c":"E2","t":177.88,"k":1.012},{"c":"E2","t":171.76,"k":0.735},{"c":"E2","t":163.05,"k":0.743},{"c":"E2","t":157.54,"k":0.747},{"c":"E2","t":151.88,"k":0.763},{"c":"E2","t":144.24,"k":0.794},{"c":"E2","t":136.6,"k":0.853},{"c":"E2","t":132.01,"k":0.925}
],
"ridge": [
{"r":"A","t":73.0,"k":2.664},{"r":"A","t":75.0,"k":2.652},{"r":"A","t":76.4,"k":2.64},
{"r":"B","t":77.9,"k":2.162},{"r":"B","t":82.0,"k":2.164},{"r":"B","t":85.5,"k":2.168},{"r":"B","t":88.3,"k":2.178},
{"r":"C","t":88.9,"k":1.731},{"r":"C","t":94.0,"k":1.75},{"r":"C","t":100.0,"k":1.772},{"r":"C","t":105.7,"k":1.794},
{"r":"D","t":107.1,"k":1.364},{"r":"D","t":115.2,"k":1.387},{"r":"D","t":122.8,"k":1.395},{"r":"D","t":132.0,"k":1.4},{"r":"D","t":141.5,"k":1.403},
{"r":"E","t":141.9,"k":1.016},{"r":"E","t":147.3,"k":1.024},{"r":"E","t":155.0,"k":1.028},{"r":"E","t":164.0,"k":1.028}
],
"clab": [
{"lab":"0.2","t":137.47,"k":1.672},{"lab":"0.4","t":134.57,"k":1.589},{"lab":"0.6","t":131.36,"k":1.534},{"lab":"0.8","t":127.85,"k":1.47}
],
"ixl": [
{"n":0,"lab":"0"},{"n":1,"lab":"1"},{"n":2,"lab":"2"},{"n":3,"lab":"3"},{"n":4,"lab":"4"},{"n":5,"lab":"5"},{"n":6,"lab":"6"}
],
"iyl": [
{"h":0,"lab":"0."},{"h":0.5,"lab":"0.5"},{"h":1,"lab":"1."},{"h":1.5,"lab":"1.5"}
],
"inset": [
{"s":"Δϕ=π","n":0,"h":1.445},{"s":"Δϕ=π","n":0.2,"h":1.4},{"s":"Δϕ=π","n":0.4,"h":1.3},{"s":"Δϕ=π","n":0.6,"h":1.17},{"s":"Δϕ=π","n":0.8,"h":1.02},{"s":"Δϕ=π","n":1.0,"h":0.865},{"s":"Δϕ=π","n":1.2,"h":0.725},{"s":"Δϕ=π","n":1.4,"h":0.615},{"s":"Δϕ=π","n":1.6,"h":0.53},{"s":"Δϕ=π","n":1.8,"h":0.47},{"s":"Δϕ=π","n":2.0,"h":0.425},{"s":"Δϕ=π","n":2.5,"h":0.355},{"s":"Δϕ=π","n":3.0,"h":0.305},{"s":"Δϕ=π","n":3.5,"h":0.27},{"s":"Δϕ=π","n":4.0,"h":0.235},{"s":"Δϕ=π","n":4.5,"h":0.21},{"s":"Δϕ=π","n":5.0,"h":0.19},{"s":"Δϕ=π","n":5.5,"h":0.17},{"s":"Δϕ=π","n":6.0,"h":0.155},{"s":"Δϕ=π","n":6.38,"h":0.145},
{"s":"Δϕ=3π","n":0,"h":0.81},{"s":"Δϕ=3π","n":0.25,"h":0.805},{"s":"Δϕ=3π","n":0.5,"h":0.785},{"s":"Δϕ=3π","n":0.75,"h":0.75},{"s":"Δϕ=3π","n":1.0,"h":0.71},{"s":"Δϕ=3π","n":1.25,"h":0.67},{"s":"Δϕ=3π","n":1.5,"h":0.63},{"s":"Δϕ=3π","n":1.75,"h":0.595},{"s":"Δϕ=3π","n":2.0,"h":0.56},{"s":"Δϕ=3π","n":2.5,"h":0.49},{"s":"Δϕ=3π","n":3.0,"h":0.43},{"s":"Δϕ=3π","n":3.5,"h":0.38},{"s":"Δϕ=3π","n":4.0,"h":0.34},{"s":"Δϕ=3π","n":4.5,"h":0.305},{"s":"Δϕ=3π","n":5.0,"h":0.28},{"s":"Δϕ=3π","n":5.5,"h":0.26},{"s":"Δϕ=3π","n":6.0,"h":0.245},{"s":"Δϕ=3π","n":6.38,"h":0.235},
{"s":"Δϕ=5π","n":0,"h":0.635},{"s":"Δϕ=5π","n":0.5,"h":0.63},{"s":"Δϕ=5π","n":1.0,"h":0.615},{"s":"Δϕ=5π","n":1.5,"h":0.59},{"s":"Δϕ=5π","n":2.0,"h":0.555},{"s":"Δϕ=5π","n":2.5,"h":0.51},{"s":"Δϕ=5π","n":3.0,"h":0.47},{"s":"Δϕ=5π","n":3.5,"h":0.435},{"s":"Δϕ=5π","n":4.0,"h":0.4},{"s":"Δϕ=5π","n":4.5,"h":0.37},{"s":"Δϕ=5π","n":5.0,"h":0.345},{"s":"Δϕ=5π","n":5.5,"h":0.32},{"s":"Δϕ=5π","n":6.0,"h":0.3},{"s":"Δϕ=5π","n":6.38,"h":0.285},
{"s":"Δϕ=7π","n":0,"h":0.555},{"s":"Δϕ=7π","n":0.5,"h":0.552},{"s":"Δϕ=7π","n":1.0,"h":0.545},{"s":"Δϕ=7π","n":1.5,"h":0.535},{"s":"Δϕ=7π","n":2.0,"h":0.52},{"s":"Δϕ=7π","n":2.5,"h":0.5},{"s":"Δϕ=7π","n":3.0,"h":0.48},{"s":"Δϕ=7π","n":3.5,"h":0.46},{"s":"Δϕ=7π","n":4.0,"h":0.44},{"s":"Δϕ=7π","n":4.5,"h":0.418},{"s":"Δϕ=7π","n":5.0,"h":0.395},{"s":"Δϕ=7π","n":5.5,"h":0.375},{"s":"Δϕ=7π","n":6.0,"h":0.355},{"s":"Δϕ=7π","n":6.38,"h":0.34},
{"s":"Δϕ=9π","n":0,"h":0.53},{"s":"Δϕ=9π","n":0.5,"h":0.527},{"s":"Δϕ=9π","n":1.0,"h":0.52},{"s":"Δϕ=9π","n":1.5,"h":0.513},{"s":"Δϕ=9π","n":2.0,"h":0.505},{"s":"Δϕ=9π","n":2.5,"h":0.494},{"s":"Δϕ=9π","n":3.0,"h":0.48},{"s":"Δϕ=9π","n":3.5,"h":0.465},{"s":"Δϕ=9π","n":4.0,"h":0.45},{"s":"Δϕ=9π","n":4.5,"h":0.433},{"s":"Δϕ=9π","n":5.0,"h":0.415},{"s":"Δϕ=9π","n":5.5,"h":0.4},{"s":"Δϕ=9π","n":6.0,"h":0.38},{"s":"Δϕ=9π","n":6.38,"h":0.365}
]
},
"layer": [
{
"layer": [
{
"data": {"name": "heat"},
"mark": {"type": "rect", "clip": true, "binSpacing": 0},
"encoding": {
"x": {"field": "t", "type": "quantitative", "bin": {"step": 3, "extent": [73.5, 163.5], "nice": false}, "scale": {"domain": [73.65, 163.3], "nice": false, "zero": false},
"axis": {"orient": "bottom", "values": [80, 100, 120, 140, 160], "format": "d", "labelFontSize": 19, "tickSize": 6, "tickWidth": 1.5, "labelPadding": 4, "title": "Deceleration Pulse Duration, T₂ [μs]", "titleFontSize": 28.5, "titleFontWeight": "bold", "titlePadding": 19, "zindex": 1}},
"y": {"field": "k", "type": "quantitative", "bin": {"step": 0.05, "extent": [0.7, 3.0], "nice": false}, "scale": {"domain": [0.696, 3], "nice": false, "zero": false}, "axis": null},
"color": {"field": "v", "type": "quantitative",
"scale": {"domain": [0, 0.06, 0.13, 0.25, 0.37, 0.5, 0.62, 0.75, 0.85, 1], "range": ["#2e2a80", "#3838a2", "#0f5cdd", "#1482d6", "#07a3c9", "#2fb6a3", "#86bd76", "#cfba5a", "#f8b236", "#f6f614"], "interpolate": "rgb"},
"legend": {"orient": "none", "legendX": 8.8, "legendY": 519.3, "direction": "horizontal", "gradientLength": 295, "gradientThickness": 17, "title": null, "values": [0, 0.2, 0.4, 0.6, 0.8, 1], "labelExpr": "datum.value == 0 ? '0' : format(datum.value, '.1f')", "labelColor": "#f0f0ff", "labelFontSize": 12.5, "labelOffset": 8, "labelAlign": "center", "gradientStrokeColor": "#202060", "gradientStrokeWidth": 1, "padding": 0}}
}
},
{
"data": {"name": "cont"},
"mark": {"type": "line", "clip": true, "interpolate": "cardinal-closed", "stroke": "#12303c", "strokeWidth": 3, "opacity": 0.68},
"encoding": {
"x": {"field": "t", "type": "quantitative", "axis": null},
"y": {"field": "k", "type": "quantitative", "scale": {"domain": [0.696, 3], "nice": false, "zero": false},
"axis": {"orient": "left", "values": [0.8, 1, 1.2, 1.4, 1.6, 1.8, 2, 2.2, 2.4, 2.6, 2.8, 3], "labelExpr": "(datum.value == 1 || datum.value == 2 || datum.value == 3) ? format(datum.value, 'd') : ''", "labelFontSize": 20, "tickSize": 6, "tickWidth": 1.5, "labelPadding": 3, "title": "Spatial Frequency, K [μm⁻¹x10⁻¹]", "titleFontSize": 28.5, "titleFontWeight": "bold", "titlePadding": 10, "zindex": 1}},
"detail": {"field": "c"},
"order": {"value": null}
}
},
{
"data": {"name": "ridge"},
"mark": {"type": "line", "clip": true, "interpolate": "monotone", "stroke": "black", "strokeWidth": 2, "strokeDash": [7, 4]},
"encoding": {
"x": {"field": "t", "type": "quantitative",
"axis": {"orient": "top", "values": [78.47, 89.6, 107.4, 143.1], "labelExpr": "datum.value < 80 ? '9π' : (datum.value < 100 ? '7π' : (datum.value < 120 ? '5π' : '3π'))", "labelFontSize": 19, "tickSize": 6, "tickWidth": 1.5, "labelPadding": 4, "title": null, "zindex": 1}},
"y": {"field": "k", "type": "quantitative", "axis": null},
"detail": {"field": "r"}
}
},
{
"data": {"name": "clab"},
"mark": {"type": "text", "fontSize": 13, "color": "black"},
"encoding": {
"x": {"field": "t", "type": "quantitative", "axis": null},
"y": {"field": "k", "type": "quantitative", "axis": null},
"text": {"field": "lab"}
}
}
],
"resolve": {"axis": {"x": "independent", "y": "independent"}}
},
{
"layer": [
{
"data": {"values": [{}]},
"mark": {"type": "rect", "fill": "white"},
"encoding": {
"x": {"datum": -1.5, "type": "quantitative", "scale": {"domain": [-10.606, 6.916], "nice": false, "zero": false}, "axis": null},
"x2": {"datum": 6.86},
"y": {"datum": -0.289, "type": "quantitative", "scale": {"domain": [-2.662, 1.731], "nice": false, "zero": false}, "axis": null},
"y2": {"datum": 1.648}
}
},
{
"data": {"name": "inset"},
"mark": {"type": "line", "strokeWidth": 1.8, "interpolate": "monotone"},
"encoding": {
"x": {"field": "n", "type": "quantitative", "axis": null},
"y": {"field": "h", "type": "quantitative", "axis": null},
"color": {"field": "s", "type": "nominal",
"scale": {"domain": ["Δϕ=π", "Δϕ=3π", "Δϕ=5π", "Δϕ=7π", "Δϕ=9π"], "range": ["#1414ff", "#ff8000", "#22ee22", "#ff1a1a", "#8c1a8c"]},
"legend": {"orient": "none", "legendX": 420, "legendY": 38, "title": null, "symbolType": "stroke", "symbolSize": 484, "symbolStrokeWidth": 2, "labelFontSize": 12, "labelFontWeight": "bold", "labelOffset": 7, "clipHeight": 14.4, "rowPadding": 0, "padding": 0}}
}
},
{
"data": {"values": [{}]},
"mark": {"type": "rect", "fillOpacity": 0, "stroke": "black", "strokeWidth": 1.5},
"encoding": {
"x": {"datum": 0, "type": "quantitative", "axis": null},
"x2": {"datum": 6.38},
"y": {"datum": 0, "type": "quantitative", "axis": null},
"y2": {"datum": 1.616}
}
},
{
"data": {"name": "ixl"},
"mark": {"type": "rule", "color": "black", "strokeWidth": 1.2},
"encoding": {
"x": {"field": "n", "type": "quantitative", "axis": null},
"y": {"datum": 0, "type": "quantitative", "axis": null},
"y2": {"datum": 0.045}
}
},
{
"data": {"name": "ixl"},
"mark": {"type": "text", "fontSize": 11.5, "fontWeight": "bold", "baseline": "middle", "align": "center", "color": "black"},
"encoding": {
"x": {"field": "n", "type": "quantitative", "axis": null},
"y": {"datum": -0.085, "type": "quantitative", "axis": null},
"text": {"field": "lab"}
}
},
{
"data": {"name": "iyl"},
"mark": {"type": "rule", "color": "black", "strokeWidth": 1.2},
"encoding": {
"y": {"field": "h", "type": "quantitative", "axis": null},
"x": {"datum": 0, "type": "quantitative", "axis": null},
"x2": {"datum": 0.18}
}
},
{
"data": {"name": "iyl"},
"mark": {"type": "text", "fontSize": 11.5, "fontWeight": "bold", "baseline": "middle", "align": "right", "color": "black"},
"encoding": {
"y": {"field": "h", "type": "quantitative", "axis": null},
"x": {"datum": -0.12, "type": "quantitative", "axis": null},
"text": {"field": "lab"}
}
},
{
"data": {"values": [{}]},
"mark": {"type": "text", "text": "Nₚ", "fontSize": 10.5, "fontWeight": "bold", "fontStyle": "italic", "align": "center", "baseline": "middle", "color": "black"},
"encoding": {
"x": {"datum": 3.19, "type": "quantitative", "axis": null},
"y": {"datum": -0.26, "type": "quantitative", "axis": null}
}
},
{
"data": {"values": [{}]},
"mark": {"type": "text", "text": "Jump Height, ΔK [μm⁻¹x10⁻¹]", "angle": 270, "fontSize": 9.5, "fontWeight": "bold", "align": "center", "baseline": "middle", "color": "black"},
"encoding": {
"x": {"datum": -1.2, "type": "quantitative", "axis": null},
"y": {"datum": 0.808, "type": "quantitative", "axis": null}
}
},
{
"data": {"values": [{}]},
"mark": {"type": "rule", "strokeDash": [5, 3], "strokeWidth": 1.5, "color": "black"},
"encoding": {
"x": {"datum": 5.61, "type": "quantitative", "axis": null},
"y": {"datum": 0, "type": "quantitative", "axis": null},
"y2": {"datum": 1.616}
}
},
{
"data": {"values": [{}]},
"mark": {"type": "text", "text": "Nₚ=5.61", "angle": 270, "fontSize": 13, "fontWeight": "bold", "align": "center", "baseline": "middle", "color": "black"},
"encoding": {
"x": {"datum": 5.33, "type": "quantitative", "axis": null},
"y": {"datum": 1.2, "type": "quantitative", "axis": null}
}
}
]
}
],
"resolve": {"scale": {"x": "independent", "y": "independent", "color": "independent"}}
}
